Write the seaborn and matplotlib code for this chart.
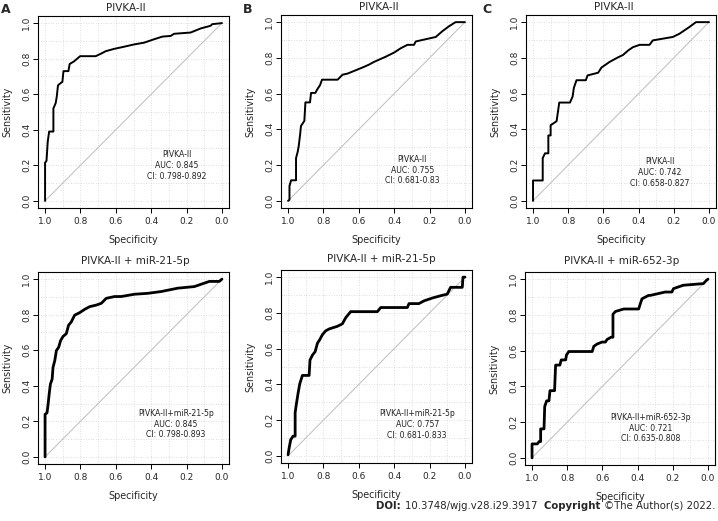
import numpy as np
import pandas as pd
import matplotlib
matplotlib.use("Agg")
import matplotlib.pyplot as plt
from matplotlib.ticker import FormatStrFormatter
import seaborn as sns

# text of the panels
panel_letters = ["A", "B", "C"]
titles = ["PIVKA-II", "PIVKA-II", "PIVKA-II",
          "PIVKA-II + miR-21-5p", "PIVKA-II + miR-21-5p", "PIVKA-II + miR-652-3p"]
marker_names = ["PIVKA-II", "PIVKA-II", "PIVKA-II",
                "PIVKA-II+miR-21-5p", "PIVKA-II+miR-21-5p", "PIVKA-II+miR-652-3p"]
auc_values = ["0.845", "0.755", "0.742", "0.845", "0.757", "0.721"]
ci_values = ["0.798-0.892", "0.681-0.83", "0.658-0.827",
             "0.798-0.893", "0.681-0.833", "0.635-0.808"]
tick_values = [1.0, 0.8, 0.6, 0.4, 0.2, 0.0]
chance_line = [0.0, 1.0]

# ROC curves (specificity, sensitivity)
spec_a1 = [1.0, 1.0, 0.992, 0.985, 0.977, 0.953, 0.953, 0.94, 0.934, 0.927, 0.915, 0.902, 0.896,
           0.868, 0.861, 0.836, 0.802, 0.714, 0.686, 0.657, 0.61, 0.554, 0.497, 0.44, 0.384,
           0.337, 0.29, 0.27, 0.177, 0.12, 0.064, 0.055, 0.0]
sens_a1 = [0.0, 0.215, 0.225, 0.333, 0.39, 0.39, 0.52, 0.55, 0.586, 0.65, 0.66, 0.67, 0.73,
           0.73, 0.77, 0.785, 0.814, 0.814, 0.827, 0.842, 0.855, 0.867, 0.88, 0.89, 0.909,
           0.924, 0.928, 0.94, 0.947, 0.97, 0.985, 0.994, 1.0]

spec_b1 = [1.0, 0.992, 0.992, 0.983, 0.955, 0.955, 0.945, 0.94, 0.932, 0.927, 0.908, 0.902, 0.876,
           0.87, 0.846, 0.833, 0.82, 0.808, 0.72, 0.692, 0.664, 0.617, 0.57, 0.541, 0.513,
           0.447, 0.4, 0.363, 0.325, 0.288, 0.278, 0.165, 0.128, 0.09, 0.053, 0.0]
sens_b1 = [0.0, 0.006, 0.083, 0.115, 0.115, 0.239, 0.277, 0.305, 0.371, 0.419, 0.447, 0.551, 0.551,
           0.604, 0.604, 0.627, 0.646, 0.678, 0.678, 0.706, 0.712, 0.731, 0.75, 0.763, 0.778,
           0.807, 0.83, 0.854, 0.873, 0.873, 0.892, 0.917, 0.949, 0.977, 1.0, 1.0]

spec_c1 = [1.0, 1.0, 0.945, 0.945, 0.932, 0.913, 0.913, 0.9, 0.9, 0.866, 0.851, 0.79, 0.775,
           0.768, 0.753, 0.7, 0.69, 0.63, 0.611, 0.564, 0.517, 0.489, 0.46, 0.432, 0.394,
           0.338, 0.319, 0.206, 0.168, 0.111, 0.074, 0.0]
sens_c1 = [0.0, 0.114, 0.114, 0.239, 0.266, 0.266, 0.366, 0.366, 0.423, 0.446, 0.55, 0.55, 0.584,
           0.632, 0.675, 0.675, 0.702, 0.717, 0.746, 0.778, 0.803, 0.816, 0.841, 0.86, 0.873,
           0.873, 0.898, 0.917, 0.935, 0.973, 1.0, 1.0]

spec_a2 = [1.0, 1.0, 0.989, 0.983, 0.977, 0.97, 0.96, 0.955, 0.945, 0.936, 0.923, 0.912, 0.898,
           0.88, 0.867, 0.852, 0.833, 0.805, 0.776, 0.748, 0.71, 0.682, 0.654, 0.607, 0.57,
           0.494, 0.419, 0.344, 0.25, 0.156, 0.071, 0.015, 0.0]
sens_a2 = [0.0, 0.239, 0.248, 0.295, 0.352, 0.409, 0.438, 0.504, 0.542, 0.598, 0.617, 0.655, 0.678,
           0.693, 0.741, 0.759, 0.797, 0.811, 0.83, 0.845, 0.854, 0.864, 0.892, 0.902, 0.902,
           0.915, 0.92, 0.93, 0.949, 0.958, 0.987, 0.987, 1.0]

spec_b2 = [1.0, 0.994, 0.985, 0.972, 0.96, 0.96, 0.953, 0.944, 0.934, 0.919, 0.881, 0.876, 0.862,
           0.847, 0.834, 0.821, 0.806, 0.787, 0.768, 0.721, 0.693, 0.674, 0.646, 0.495, 0.476,
           0.326, 0.316, 0.26, 0.232, 0.185, 0.137, 0.1, 0.081, 0.015, 0.011, 0.0]
sens_b2 = [0.006, 0.044, 0.09, 0.11, 0.11, 0.242, 0.29, 0.347, 0.403, 0.45, 0.45, 0.536, 0.564,
           0.583, 0.63, 0.65, 0.678, 0.7, 0.71, 0.725, 0.739, 0.773, 0.807, 0.807, 0.83,
           0.83, 0.852, 0.852, 0.867, 0.883, 0.896, 0.905, 0.943, 0.943, 1.0, 1.0]

spec_c2 = [1.0, 1.0, 0.97, 0.96, 0.951, 0.951, 0.932, 0.928, 0.917, 0.904, 0.898, 0.872, 0.866,
           0.842, 0.834, 0.809, 0.804, 0.791, 0.658, 0.649, 0.63, 0.602, 0.583, 0.574, 0.551,
           0.54, 0.54, 0.526, 0.479, 0.394, 0.385, 0.375, 0.338, 0.328, 0.243, 0.205, 0.196,
           0.14, 0.026, 0.008, 0.0]
sens_c2 = [0.0, 0.078, 0.078, 0.091, 0.091, 0.162, 0.162, 0.287, 0.319, 0.319, 0.376, 0.376, 0.519,
           0.519, 0.548, 0.548, 0.576, 0.595, 0.595, 0.624, 0.637, 0.648, 0.648, 0.662, 0.675,
           0.675, 0.804, 0.819, 0.833, 0.833, 0.861, 0.89, 0.909, 0.909, 0.928, 0.928, 0.947,
           0.966, 0.975, 0.994, 1.0]

curves = [(spec_a1, sens_a1), (spec_b1, sens_b1), (spec_c1, sens_c1),
          (spec_a2, sens_a2), (spec_b2, sens_b2), (spec_c2, sens_c2)]

# layout (pixel boxes left, top, right, bottom) and text placement
boxes = [(38, 16, 229, 208), (281, 15, 472, 208), (526, 15, 716, 208),
         (38, 272, 229, 464), (281, 270, 472, 463), (525, 272, 715, 465)]
title_x = [0.459, 0.511, 0.462, 0.508, 0.527, 0.509]
title_pad = [3.8, 3.8, 3.8, 6, 6, 6]
label_xy = [(0.256, 0.2), (0.297, 0.172), (0.281, 0.16),
            (0.26, 0.184), (0.27, 0.176), (0.328, 0.167)]
curve_lw = [1.4, 1.4, 1.4, 2.0, 2.0, 2.0]

sns.set_style("white")
plt.rcParams['font.family'] = ['DejaVu Sans']

W, H = 718, 521
fig = plt.figure(figsize=(W / 100, H / 100), dpi=100)

for i in range(6):
    l, t, r, b = boxes[i]
    ax = fig.add_axes([l / W, 1 - b / H, (r - l) / W, (b - t) / H])
    spec, sens = curves[i]
    df = pd.DataFrame({"Specificity": spec, "Sensitivity": sens})

    # chance diagonal
    sns.lineplot(x=chance_line, y=chance_line[::-1], ax=ax, color="#c4c4c4", lw=0.8,
                 sort=False, estimator=None)
    sns.lineplot(data=df, x="Specificity", y="Sensitivity", ax=ax, color="black",
                 lw=curve_lw[i], sort=False, estimator=None)

    ax.set_xlim(1.04, -0.04)
    ax.set_ylim(-0.04, 1.04)
    ax.set_xticks(tick_values)
    ax.set_yticks(tick_values[::-1])
    ax.set_xticks(np.arange(0, 1.01, 0.1), minor=True)
    ax.set_yticks(np.arange(0, 1.01, 0.1), minor=True)
    ax.xaxis.set_major_formatter(FormatStrFormatter('%.1f'))
    ax.yaxis.set_major_formatter(FormatStrFormatter('%.1f'))
    ax.grid(True, which='both', ls=(0, (1, 2)), color="#d4d4d4", lw=0.6)
    ax.set_axisbelow(True)
    ax.tick_params(which='major', length=3.6, width=0.7, color="black", labelsize=6.5,
                   direction='out', bottom=True, left=True)
    ax.tick_params(axis='x', pad=3.0)
    ax.tick_params(axis='y', pad=1.2, labelrotation=90)
    ax.tick_params(which='minor', length=0)
    for lab in ax.get_yticklabels():
        lab.set_va('center')
    for s in ax.spines.values():
        s.set_color("black")
        s.set_linewidth(0.8)

    ax.set_xlabel("Specificity", fontsize=6.9, va='center')
    ax.set_ylabel("Sensitivity", fontsize=6.9, va='center')
    ax.xaxis.set_label_coords(0.5, -0.167)
    ax.yaxis.set_label_coords(-0.16, 0.5)

    ax.set_title(titles[i], fontsize=7.5, x=title_x[i], pad=title_pad[i])

    tx, ty = label_xy[i]
    ax.text(tx, ty, marker_names[i] + "\nAUC: " + auc_values[i] + "\nCI: " + ci_values[i],
            fontsize=5.6, ha='center', va='center', linespacing=1.25, color="#222222")

for k, letter in enumerate(panel_letters):
    fig.text([1, 243, 482][k] / W, 1 - 3 / H, letter, fontsize=9, fontweight='bold',
             ha='left', va='top')

# footer with mixed bold / regular pieces, laid out right to left
pieces = [("©The Author(s) 2022.", 'normal'), ("Copyright ", 'bold'),
          ("10.3748/wjg.v28.i29.3917  ", 'normal'), ("DOI: ", 'bold')]
fig.canvas.draw()
renderer = fig.canvas.get_renderer()
x_right = 715
for txt, wt in pieces:
    tobj = fig.text(x_right / W, 1 - 506 / H, txt, fontsize=7.3, fontweight=wt,
                    ha='right', va='center')
    bb = tobj.get_window_extent(renderer)
    x_right = x_right - bb.width

fig.savefig("out.png", dpi=100)
